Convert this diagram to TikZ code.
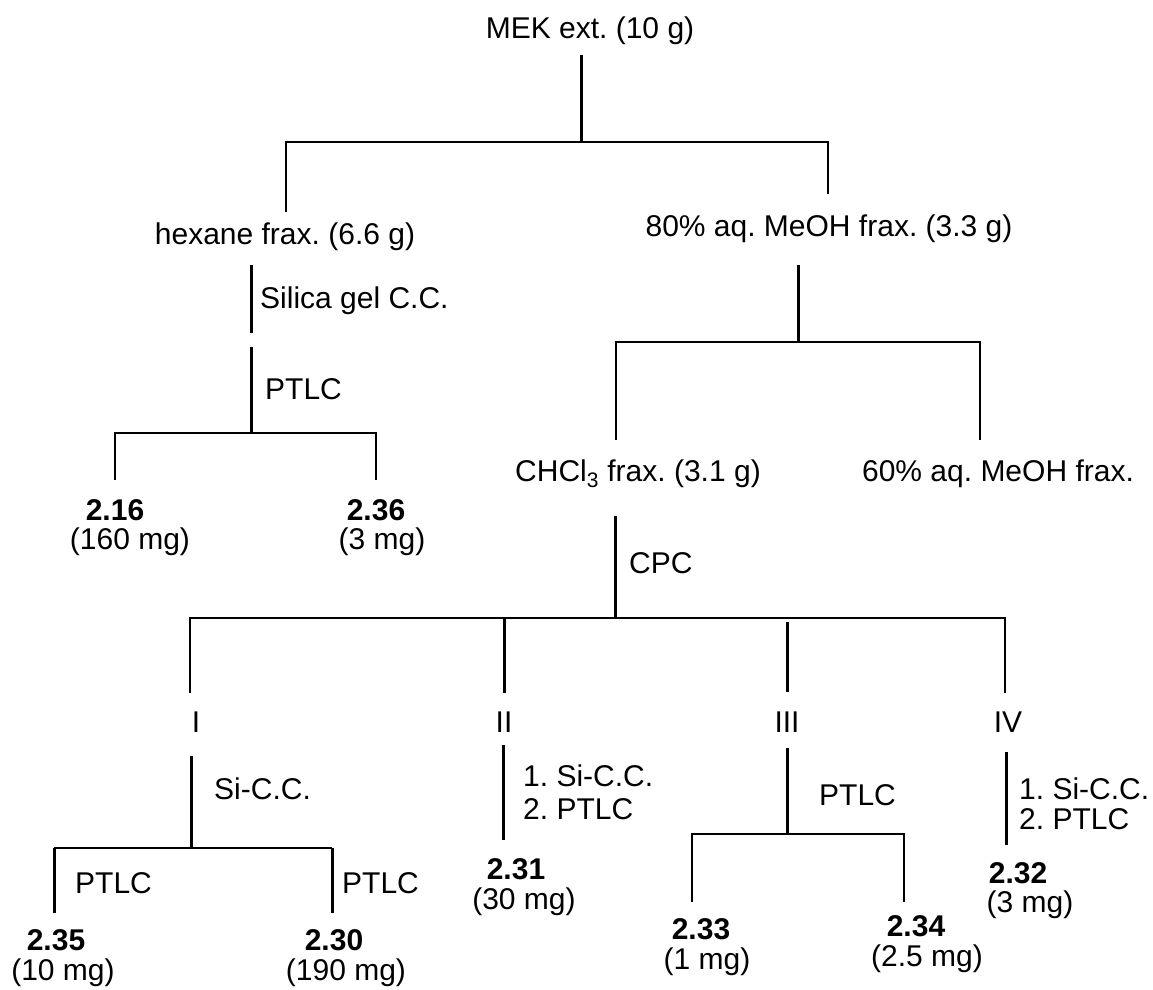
\documentclass[tikz,border=0pt]{standalone}
\usepackage{fontspec}
\setmainfont{Liberation Sans}
\begin{document}
\frenchspacing
\begin{tikzpicture}[x=1pt,y=-1pt,
  every node/.style={inner sep=0pt,font=\fontsize{30}{32}\selectfont},
  lnthin/.style={line width=1.4pt},
  lnthick/.style={line width=3pt},
  num/.style={font=\fontsize{30}{32}\selectfont\bfseries},
  meth/.style={anchor=west,align=left}]
\useasboundingbox (0,0) rectangle (1153,989);

% text nodes
\node (mek) at (590,31) {MEK ext. (10 g)};
\node (hex) at (285,237) {hexane frax. (6.6 g)};
\node (meoh80) at (829,229) {80\% aq. MeOH frax. (3.3 g)};
\node (chcl) at (638,474) {CHCl\textsubscript{3} frax. (3.1 g)};
\node (meoh60) at (998,474) {60\% aq. MeOH frax.};

\node[meth] (silica) at (260,301) {Silica gel C.C.};
\node[meth] (ptlcA) at (265,389) {PTLC};
\node[meth] (cpc) at (629,563) {CPC};

\node[num] (n216) at (115,510) {2.16};
\node (m216) at (130,542) {(160 mg)};
\node[num] (n236) at (376,510) {2.36};
\node (m236) at (382,542) {(3 mg)};

\node (fI) at (196,722) {I};
\node (fII) at (504,722) {II};
\node (fIII) at (787,722) {III};
\node (fIV) at (1008,722) {IV};

\node[meth] (siccI) at (214,789) {Si-C.C.};
\node[meth] (ptlcB) at (75,883) {PTLC};
\node[meth] (ptlcC) at (342,883) {PTLC};
\node[num] (n235) at (56,940) {2.35};
\node (m235) at (63,973) {(10 mg)};
\node[num] (n230) at (334,940) {2.30};
\node (m230) at (346,973) {(190 mg)};

\node[meth,font=\fontsize{30}{33}\selectfont] (methII) at (523,792) {1. Si-C.C.\\2. PTLC};
\node[num] (n231) at (516,869) {2.31};
\node (m231) at (524,902) {(30 mg)};

\node[meth] (ptlcD) at (819,795) {PTLC};
\node[num] (n233) at (701,929) {2.33};
\node (m233) at (707,962) {(1 mg)};
\node[num] (n234) at (916,926) {2.34};
\node (m234) at (927,959) {(2.5 mg)};

\node[meth,font=\fontsize{30}{30}\selectfont] (methIV) at (1019,804) {1. Si-C.C.\\2. PTLC};
\node[num] (n232) at (1018,873) {2.32};
\node (m232) at (1030,905) {(3 mg)};

% coordinates
\coordinate (a1) at (581,55);  \coordinate (a2) at (581,142);
\coordinate (b1) at (286,212); \coordinate (b2) at (286,142);
\coordinate (b3) at (828,142); \coordinate (b4) at (828,194);
\coordinate (c1) at (251,265); \coordinate (c2) at (251,333);
\coordinate (c3) at (251,347); \coordinate (c4) at (251,433);
\coordinate (d1) at (115,480); \coordinate (d2) at (115,433);
\coordinate (d3) at (376,433); \coordinate (d4) at (376,480);
\coordinate (e1) at (798,265); \coordinate (e2) at (798,342);
\coordinate (f1) at (616,440); \coordinate (f2) at (616,342);
\coordinate (f3) at (980,342); \coordinate (f4) at (980,440);
\coordinate (g1) at (615,516); \coordinate (g2) at (615,618);
\coordinate (h1) at (190,693); \coordinate (h2) at (190,618);
\coordinate (h3) at (1005,618); \coordinate (h4) at (1005,693);
\coordinate (i1) at (504,618); \coordinate (i2) at (504,693);
\coordinate (j1) at (787,622); \coordinate (j2) at (787,692);
\coordinate (k1) at (191,756); \coordinate (k2) at (191,848);
\coordinate (l1) at (54,848);  \coordinate (l2) at (332,848);
\coordinate (l3) at (54,913);  \coordinate (l4) at (332,913);
\coordinate (p1) at (503,745); \coordinate (p2) at (503,840);
\coordinate (q1) at (787,748); \coordinate (q2) at (787,834);
\coordinate (r1) at (692,902); \coordinate (r2) at (692,834);
\coordinate (r3) at (904,834); \coordinate (r4) at (904,902);
\coordinate (s1) at (1006,752); \coordinate (s2) at (1006,845);

% connectors
\draw[lnthick] (a1) -- (a2);
\draw[lnthin] (b1) -- (b2) -- (b3) -- (b4);
\draw[lnthick] (c1) -- (c2);
\draw[lnthick] (c3) -- (c4);
\draw[lnthin] (d1) -- (d2) -- (d3) -- (d4);
\draw[lnthick] (e1) -- (e2);
\draw[lnthin] (f1) -- (f2) -- (f3) -- (f4);
\draw[lnthick] (g1) -- (g2);
\draw[lnthin] (h1) -- (h2) -- (h3) -- (h4);
\draw[lnthick] (i1) -- (i2);
\draw[lnthick] (j1) -- (j2);
\draw[lnthick] (k1) -- (k2);
\draw[lnthin] (l1) -- (l2);
\draw[lnthick] (l1) -- (l3);
\draw[lnthick] (l2) -- (l4);
\draw[lnthick] (p1) -- (p2);
\draw[lnthick] (q1) -- (q2);
\draw[lnthin] (r1) -- (r2) -- (r3) -- (r4);
\draw[lnthick] (s1) -- (s2);
\end{tikzpicture}
\end{document}
